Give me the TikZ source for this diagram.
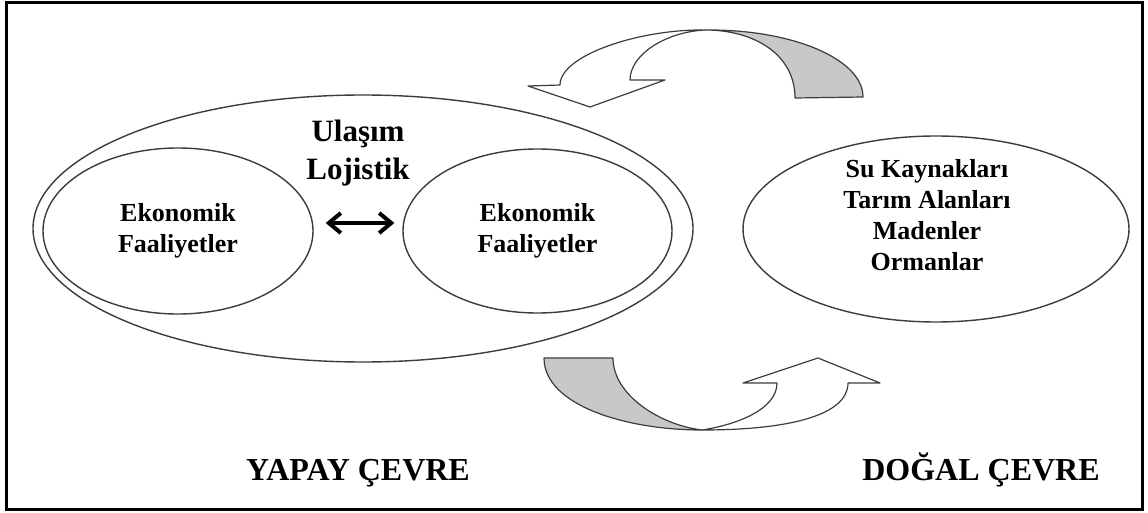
\documentclass[tikz,border=0pt]{standalone}
\usepackage{fontspec}
\setmainfont{Liberation Serif}
\usetikzlibrary{shapes.geometric,arrows.meta,calc}
\definecolor{ink}{HTML}{3C3C3C}
\definecolor{shade}{HTML}{C8C8C8}
\begin{document}
\begin{tikzpicture}[x=1pt,y=-1pt,
  ring/.style={ellipse, draw=ink, line width=1.4pt, inner sep=0pt},
  word/.style={inner sep=0pt, align=center, font=\bfseries\fontsize{26}{31}\selectfont},
  heading/.style={inner sep=0pt, anchor=base, font=\bfseries\fontsize{31}{38}\selectfont},
  caption/.style={inner sep=0pt, anchor=base, font=\bfseries\fontsize{32}{38}\selectfont},
  band/.style={draw=ink, line width=1.2pt, line join=round},
  swap/.style={{Straight Barb[length=12pt,width=20pt]}-{Straight Barb[length=12pt,width=20pt]}, line width=4pt}
]
\useasboundingbox (0,0) rectangle (1148,513);
% frame
\draw[line width=3pt] (6.5,2.5) rectangle (1142,509);

% built environment
\node[ring, minimum width=660pt, minimum height=267pt] (built) at (363,228.5) {};
\node[ring, word, minimum width=270pt, minimum height=166pt] (econA) at (178,231) {Ekonomik\\Faaliyetler};
\node[ring, word, minimum width=269pt, minimum height=164pt] (econB) at (537.5,231) {Ekonomik\\Faaliyetler};
\node[heading] (ulasim) at (358,142) {Ulaşım};
\node[heading] (lojistik) at (358,180) {Lojistik};
\draw[swap] ([shift={(12,-8)}]econA.east) -- ([shift={(-8,-8)}]econB.west);

% natural environment
\node[ring, minimum width=386pt, minimum height=186pt] (natural) at (936,229) {};
\node[word] (resources) at (927,215) {Su Kaynakları\\Tarım Alanları\\Madenler\\Ormanlar};

% upper curved arrow (natural -> built)
\coordinate (topx) at (705,30);
\filldraw[band, fill=white] (topx) .. controls (640,29) and (560,55) .. (560,85)
  -- (528,86) -- (590,107) -- (665,80) -- (630,80)
  .. controls (630,55) and (665,32) .. (topx) -- cycle;
\filldraw[band, fill=shade] (topx) .. controls (792,29) and (863,59) .. (863,97)
  -- (795,98) .. controls (795,55) and (755,30) .. (topx) -- cycle;

% lower curved arrow (built -> natural)
\coordinate (botx) at (702,430);
\filldraw[band, fill=shade] (544,358) .. controls (544,405) and (625,430) .. (botx)
  .. controls (660,425) and (613,395) .. (613,358) -- cycle;
\filldraw[band, fill=white] (botx) .. controls (790,430) and (848,415) .. (848,383)
  -- (880,383) -- (818,358) -- (743,383) -- (777,383)
  .. controls (777,410) and (735,425) .. (botx) -- cycle;

% captions
\node[caption] (yapay) at (358,480) {YAPAY ÇEVRE};
\node[caption] (dogal) at (981,480) {DOĞAL ÇEVRE};
\end{tikzpicture}
\end{document}
